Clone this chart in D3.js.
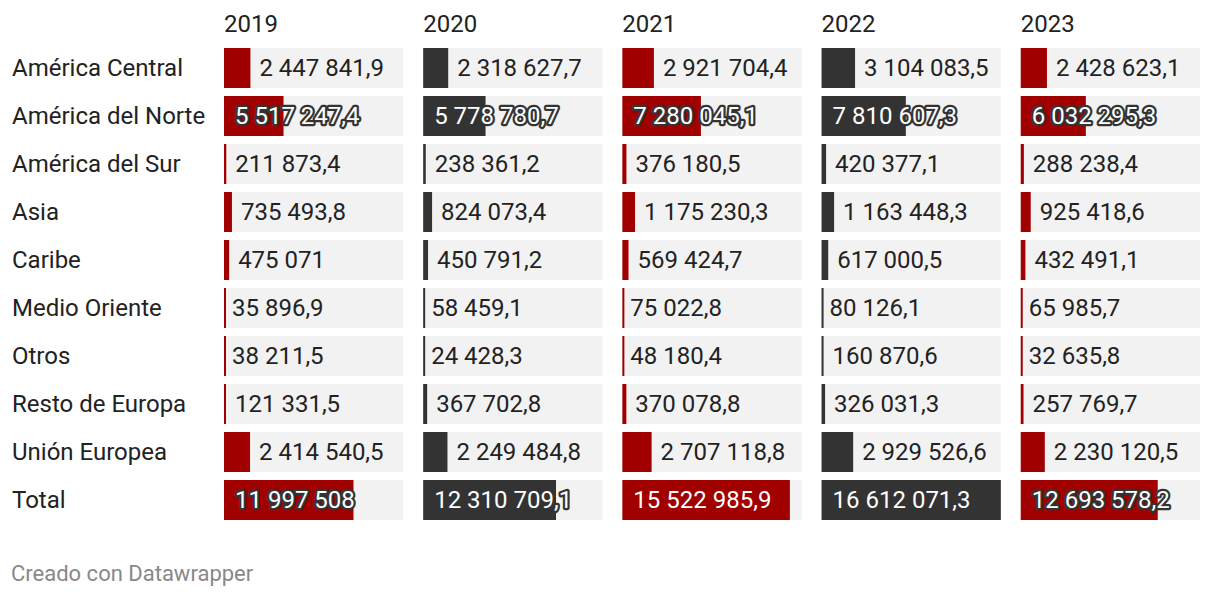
<!DOCTYPE html>
<html>
<head>
<meta charset="utf-8">
<script src="https://cdn.jsdelivr.net/npm/d3@7"></script>
<style>
  body { margin: 0; background: #fff; }
  text { font-family: Roboto, sans-serif; }
</style>
</head>
<body>
<svg id="chart" width="1220" height="596"></svg>
<script>
const regions = ['América Central', 'América del Norte', 'América del Sur', 'Asia', 'Caribe',
  'Medio Oriente', 'Otros', 'Resto de Europa', 'Unión Europea', 'Total'];
const years = ['2019', '2020', '2021', '2022', '2023'];

const v2019 = [2447841.9, 5517247.4, 211873.4, 735493.8, 475071, 35896.9, 38211.5, 121331.5, 2414540.5, 11997508];
const v2020 = [2318627.7, 5778780.7, 238361.2, 824073.4, 450791.2, 58459.1, 24428.3, 367702.8, 2249484.8, 12310709.1];
const v2021 = [2921704.4, 7280045.1, 376180.5, 1175230.3, 569424.7, 75022.8, 48180.4, 370078.8, 2707118.8, 15522985.9];
const v2022 = [3104083.5, 7810607.3, 420377.1, 1163448.3, 617000.5, 80126.1, 160870.6, 326031.3, 2929526.6, 16612071.3];
const v2023 = [2428623.1, 6032295.3, 288238.4, 925418.6, 432491.1, 65985.7, 32635.8, 257769.7, 2230120.5, 12693578.2];

const series = [v2019, v2020, v2021, v2022, v2023];
const colors = ['#a00000', '#333333', '#a00000', '#333333', '#a00000'];

const locale = d3.formatLocale({ decimal: ',', thousands: ' ', grouping: [3], currency: ['', ''] });
const fmt = v => Number.isInteger(v) ? locale.format(',d')(v) : locale.format(',.1f')(v);

const svg = d3.select('#chart');

const colX = d3.scaleBand().domain(years).range([224, 1200]).paddingInner(0.1);
// row pitch 48, cell height 40
const rowY = d3.scaleBand().domain(regions).range([48, 520]).paddingInner(1 / 6).paddingOuter(0);
const maxV = d3.max(series.flat());
const x = d3.scaleLinear().domain([0, maxV]).range([0, colX.bandwidth()]);

const FS = 24;

// column headers
svg.selectAll('.year')
  .data(years)
  .enter()
  .append('text')
  .attr('x', d => colX(d))
  .attr('y', 24)
  .attr('dominant-baseline', 'central')
  .attr('font-size', FS)
  .attr('fill', '#222')
  .text(d => d);

// row labels
svg.selectAll('.region')
  .data(regions)
  .enter()
  .append('text')
  .attr('x', 12)
  .attr('y', d => rowY(d) + rowY.bandwidth() / 2)
  .attr('dominant-baseline', 'central')
  .attr('font-size', FS)
  .attr('fill', '#222')
  .text(d => d);

years.forEach((yr, ci) => {
  const g = svg.append('g');
  const cells = regions.map((r, i) => ({ region: r, value: series[ci][i] }));

  g.selectAll('.bg')
    .data(cells)
    .enter()
    .append('rect')
    .attr('x', colX(yr))
    .attr('y', d => rowY(d.region))
    .attr('width', colX.bandwidth())
    .attr('height', rowY.bandwidth())
    .attr('fill', '#f2f2f2');

  g.selectAll('.bar')
    .data(cells)
    .enter()
    .append('rect')
    .attr('x', colX(yr))
    .attr('y', d => rowY(d.region))
    .attr('width', d => Math.max(2, x(d.value)))
    .attr('height', rowY.bandwidth())
    .attr('fill', colors[ci]);

  const labels = g.selectAll('.lbl')
    .data(cells)
    .enter()
    .append('text')
    .attr('y', d => rowY(d.region) + rowY.bandwidth() / 2)
    .attr('dominant-baseline', 'central')
    .attr('font-size', FS)
    .text(d => fmt(d.value));

  labels.each(function (d) {
    const el = d3.select(this);
    const w = x(d.value);
    const inside = w > 50;
    if (inside) {
      el.attr('x', colX(yr) + 11).attr('fill', '#fff');
      const tw = this.getComputedTextLength();
      if (11 + tw + 4 > w) {
        el.attr('stroke', '#333').attr('stroke-width', 4.5)
          .attr('stroke-linejoin', 'round').attr('paint-order', 'stroke');
      }
    } else {
      el.attr('x', colX(yr) + Math.max(2, w) + (w < 1 ? 6 : 9)).attr('fill', '#222');
    }
  });
});

svg.append('text')
  .attr('x', 11)
  .attr('y', 573)
  .attr('dominant-baseline', 'central')
  .attr('font-size', 22)
  .attr('fill', '#888')
  .text('Creado con Datawrapper');
</script>
</body>
</html>
